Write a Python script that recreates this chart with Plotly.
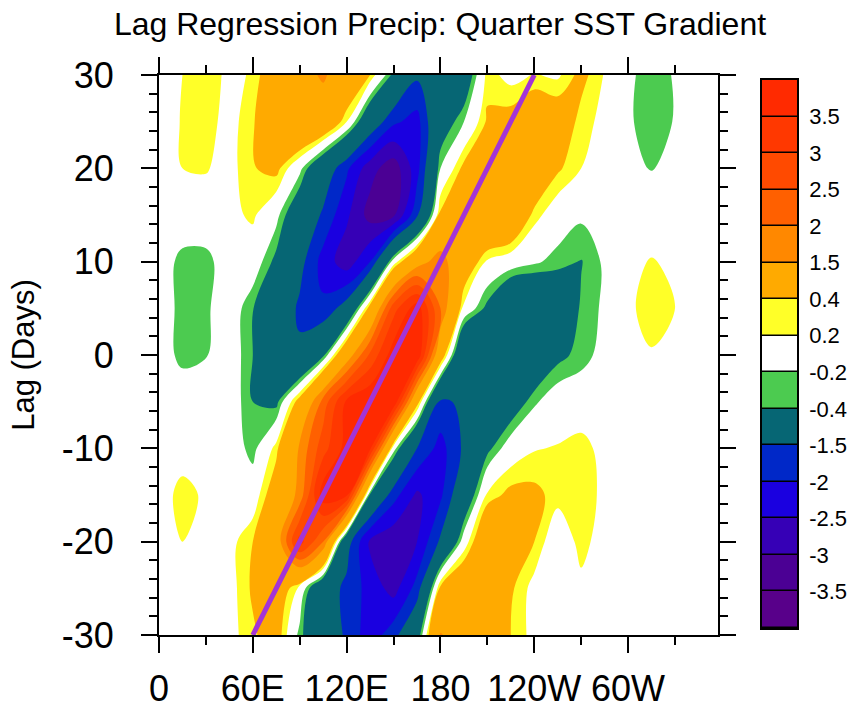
import plotly.graph_objects as go

# Longitude (deg E) and lag (days) grid of the regression field
lon = [0, 15, 30, 45, 60, 75, 90, 105, 120, 135, 150, 165, 180,
       195, 210, 225, 240, 255, 270, 285, 300, 315, 330, 345, 360]
lag = [-30, -25, -20, -15, -10, -5, 0, 5, 10, 15, 20, 25, 30]

# Lag-regressed precipitation (mm/day per unit index), rows follow `lag`
precip_reg = [
    [0.0, 0.05, 0.05, 0.1, 0.35, 0.6, -0.3, -1.0, -1.6, -2.3, -1.7, -0.7, 1.55, 1.1, 0.8, 0.4, 0.1, 0.05, 0.0, 0.0, 0.0, 0.0, 0.0, 0.0, 0.0],
    [0.0, 0.05, 0.05, 0.08, 0.45, 0.8, 0.1, -1.1, -1.65, -2.2, -2.7, -1.8, 0.5, 1.0, 0.9, 0.45, 0.1, 0.05, 0.12, 0.0, 0.0, 0.0, 0.0, 0.0, 0.0],
    [0.05, 0.2, 0.1, 0.1, 0.4, 1.1, 3.2, 2.0, -1.2, -2.6, -2.9, -2.5, -1.4, 0.0, 1.0, 0.9, 0.4, -0.05, 0.3, 0.05, 0.0, 0.0, 0.0, 0.0, 0.0],
    [0.05, 0.3, 0.15, 0.05, 0.0, 0.7, 1.7, 3.8, 3.6, -0.5, -1.8, -2.6, -2.1, -0.9, 0.25, 0.5, 0.48, 0.3, 0.3, 0.15, 0.05, 0.0, 0.0, 0.0, 0.0],
    [0.0, 0.05, 0.05, 0.0, -0.3, 0.3, 1.6, 2.8, 3.7, 3.6, -0.05, -1.5, -2.2, -1.4, -0.5, 0.0, 0.18, 0.22, 0.3, 0.1, 0.0, 0.0, 0.0, 0.0, 0.0],
    [0.0, 0.05, 0.05, 0.0, -0.4, -0.5, 0.6, 2.2, 3.6, 4.0, 4.0, 0.6, -1.6, -1.4, -1.0, -0.7, -0.25, 0.0, 0.0, 0.0, 0.0, 0.0, 0.0, 0.0, 0.0],
    [0.0, -0.3, -0.22, 0.0, -0.4, -1.1, -1.4, -0.5, 1.1, 2.6, 3.8, 4.0, 0.8, -1.3, -1.4, -1.2, -0.9, -0.5, -0.3, -0.1, 0.1, 0.18, 0.1, 0.0, 0.0],
    [0.0, -0.3, -0.25, 0.0, -0.38, -1.0, -1.6, -1.9, -1.2, 0.6, 2.8, 3.8, 2.0, 0.1, -0.5, -1.2, -1.2, -0.9, -0.35, -0.15, 0.15, 0.3, 0.2, 0.0, 0.0],
    [0.0, -0.3, -0.3, 0.0, 0.0, -0.5, -1.3, -2.2, -2.8, -2.0, 0.0, 1.2, 1.8, 0.8, 0.15, 0.0, -0.15, -0.3, -0.42, -0.15, 0.12, 0.22, 0.14, 0.0, 0.0],
    [0.0, 0.05, 0.05, 0.12, 0.25, -0.1, -0.85, -1.6, -2.4, -3.2, -3.1, -1.6, 0.5, 0.9, 1.2, 1.0, 0.3, 0.0, -0.15, 0.0, 0.0, 0.0, 0.0, 0.0, 0.0],
    [0.05, 0.2, 0.22, 0.1, 0.38, 0.5, -0.1, -1.0, -1.9, -2.8, -3.3, -2.2, -0.2, 0.5, 0.8, 1.0, 0.95, 0.45, 0.2, 0.05, -0.1, -0.22, 0.0, 0.0, 0.0],
    [0.05, 0.22, 0.3, 0.1, 0.35, 1.0, 1.2, 1.0, 0.2, -1.0, -1.9, -2.2, -0.7, -0.2, 0.45, 0.55, 0.8, 0.7, 0.3, 0.12, -0.15, -0.35, -0.18, 0.0, 0.0],
    [0.1, 0.2, 0.3, 0.15, 0.22, 0.8, 1.2, 1.6, 1.0, 0.4, -0.5, -1.4, -1.2, -0.8, 0.3, 0.1, 0.22, 0.15, 0.5, 0.18, -0.15, -0.3, -0.18, 0.0, 0.0],
]

# Contour levels and the fill colour of each band (lowest band first)
levels = [-3.5, -3, -2.5, -2, -1.5, -0.4, -0.2, 0.2, 0.4, 1.5, 2, 2.5, 3, 3.5]
level_labels = ["-3.5", "-3", "-2.5", "-2", "-1.5", "-0.4", "-0.2",
                "0.2", "0.4", "1.5", "2", "2.5", "3", "3.5"]
fill_colors = ["#58008A", "#4B0094", "#3600B6", "#1A00E0", "#0028C8",
               "#066674", "#4CCB50", "#FFFFFF", "#FFFF28", "#FFAA00",
               "#FF8800", "#FF6000", "#FF4A00", "#FF3800", "#FF2A00"]

# Axis ticks
x_tickvals = [0, 60, 120, 180, 240, 300]
x_ticktext = ["0", "60E", "120E", "180", "120W", "60W"]
x_minorvals = [30, 90, 150, 210, 270, 330]
y_tickvals = [-30, -20, -10, 0, 10, 20, 30]
y_ticktext = ["-30", "-20", "-10", "0", "10", "20", "30"]

# Reference propagation line
ref_lon = [60, 240]
ref_lag = [-30, 30]

FONT = "Liberation Sans, Arial, Helvetica, sans-serif"

fig = go.Figure()

# Stacked filled bands: each layer shades z >= bound (constraint '<' shades the failing side)
bounds = [-100] + levels
for bound, color in zip(bounds, fill_colors):
    fig.add_trace(go.Contour(
        x=lon, y=lag, z=precip_reg,
        contours=dict(type="constraint", operation="<", value=bound),
        fillcolor=color,
        line=dict(width=0, smoothing=1.0),
        showscale=False, hoverinfo="skip",
    ))

fig.add_trace(go.Scatter(
    x=ref_lon, y=ref_lag, mode="lines",
    line=dict(color="#A334D6", width=5),
    hoverinfo="skip", showlegend=False,
))

# Label bar drawn as a one-column heatmap on its own axes
n_bands = len(fill_colors)
bar_scale = [[i / (n_bands - 1), c] for i, c in enumerate(fill_colors)]
fig.add_trace(go.Heatmap(
    x=[0], y=list(range(n_bands)), z=[[i] for i in range(n_bands)],
    zmin=0, zmax=n_bands - 1, colorscale=bar_scale, showscale=False,
    ygap=1.5, xaxis="x2", yaxis="y2", hoverinfo="skip",
))

plot_w = 797 - 159
plot_h = 635 - 75
fig.update_layout(
    width=852, height=712,
    margin=dict(l=159, r=852 - 797, t=75, b=712 - 635),
    paper_bgcolor="white", plot_bgcolor="white",
    showlegend=False,
    font=dict(family=FONT, color="black"),
    title=dict(
        text="Lag Regression Precip: Quarter SST Gradient",
        font=dict(family=FONT, size=32, color="black"),
        x=440 / 852, xref="container", xanchor="center",
        y=1 - 24 / 712, yref="container", yanchor="middle",
    ),
    xaxis=dict(
        domain=[0, (718 - 159) / plot_w], range=[0, 357.5], automargin=False,
        tickmode="array", tickvals=x_tickvals, ticktext=x_ticktext,
        ticks="outside", ticklen=16, tickwidth=2, tickcolor="black",
        minor=dict(tickmode="array", tickvals=x_minorvals, ticks="outside",
                   ticklen=8, tickwidth=1.5, tickcolor="black"),
        showline=True, linewidth=2, linecolor="black", mirror="ticks",
        showgrid=False, zeroline=False,
        tickfont=dict(family=FONT, size=36, color="black"),
        ticklabelstandoff=5,
    ),
    yaxis=dict(
        domain=[0, 1], range=[-30, 30], automargin=False,
        tickmode="array", tickvals=y_tickvals, ticktext=y_ticktext,
        ticks="outside", ticklen=16, tickwidth=2, tickcolor="black",
        minor=dict(dtick=2, ticks="outside", ticklen=8, tickwidth=1.5,
                   tickcolor="black"),
        showline=True, linewidth=2, linecolor="black", mirror="ticks",
        showgrid=False, zeroline=False,
        tickfont=dict(family=FONT, size=36, color="black"),
        ticklabelstandoff=20,
        title=dict(text="Lag (Days)", standoff=18,
                   font=dict(family=FONT, size=31, color="black")),
    ),
    xaxis2=dict(
        domain=[(762 - 159) / plot_w, 1.0], range=[-0.5, 0.5], anchor="y2",
        automargin=False,
        showticklabels=False, ticks="", showgrid=False, zeroline=False,
        showline=True, linewidth=1.5, linecolor="black", mirror=True,
    ),
    yaxis2=dict(
        domain=[(635 - 628) / plot_h, (635 - 80) / plot_h],
        range=[-0.5, n_bands - 0.5], automargin=False,
        anchor="x2", side="right",
        tickmode="array", tickvals=[i + 0.5 for i in range(len(levels))],
        ticktext=level_labels, ticks="",
        showgrid=False, zeroline=False,
        showline=True, linewidth=1.5, linecolor="black", mirror=True,
        tickfont=dict(family=FONT, size=22, color="black"),
        ticklabelstandoff=6,
    ),
    shapes=[dict(type="rect", xref="x2", yref="y2", x0=-0.5, x1=0.5,
                 y0=-0.5, y1=n_bands - 0.5, fillcolor="black",
                 line=dict(width=0), layer="below")],
)

fig.write_html("out.html")
